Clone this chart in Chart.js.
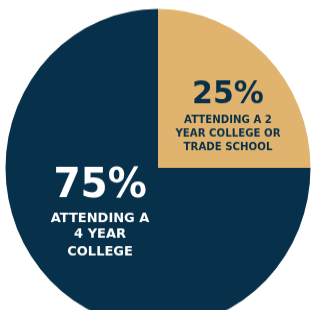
<!DOCTYPE html>
<html>
<head>
<meta charset="utf-8">
<script src="https://cdn.jsdelivr.net/npm/chart.js@4"></script>
<style>
  html, body { margin: 0; padding: 0; background: #fff; overflow: hidden; }
  #wrap {
    position: absolute; left: 0; top: 0;
    width: 312px; height: 320px;
    transform-origin: 0 0;
    transform: scaleY(1.0426);
  }
</style>
</head>
<body>
<div id="wrap"><canvas id="chart"></canvas></div>
<script>
const categories = ["2 year college or trade school", "4 year college"];
const shares = [25, 75];
const percentLabels = ["25%", "75%"];
const captionLines = [
    ["ATTENDING A 2", "YEAR COLLEGE OR", "TRADE SCHOOL"],
    ["ATTENDING A", "4 YEAR", "COLLEGE"]
];

const sliceColors = ["#e0b46f", "#07304a"];
const textColors = ["#0a3048", "#ffffff"];

// where each slice's text sits, as fractions of the radius from the centre
const textSpots = [
    { dx: 0.459, big: -0.409, lines: [-0.283, -0.195, -0.113], bigSize: 30, lineSize: 10.2 },
    { dx: -0.380, big: 0.183, lines: [0.340, 0.441, 0.548], bigSize: 39, lineSize: 13 }
];

const sliceText = {
    id: "sliceText",
    afterDatasetsDraw(chart) {
        const ctx = chart.ctx;
        const arcs = chart.getDatasetMeta(0).data;

        arcs.forEach((arc, i) => {
            const r = arc.outerRadius;
            const spot = textSpots[i];
            const x = arc.x + spot.dx * r;

            ctx.save();
            ctx.fillStyle = textColors[i];
            ctx.textAlign = "center";
            ctx.textBaseline = "alphabetic";

            ctx.font = `bold ${spot.bigSize}px "DejaVu Sans", sans-serif`;
            ctx.fillText(percentLabels[i], x, arc.y + spot.big * r);

            ctx.font = `bold ${spot.lineSize}px "DejaVu Sans", sans-serif`;
            captionLines[i].forEach((line, j) => {
                ctx.fillText(line, x, arc.y + spot.lines[j] * r);
            });
            ctx.restore();
        });
    }
};

new Chart(document.getElementById("chart"), {
    type: "pie",
    data: {
        labels: categories,
        datasets: [{
            data: shares,
            backgroundColor: sliceColors,
            borderWidth: 0
        }]
    },
    options: {
        responsive: true,
        maintainAspectRatio: false,
        animation: false,
        layout: {
            padding: { left: 5.5, right: 1.5, top: 8.6, bottom: 6.4 }
        },
        plugins: {
            legend: { display: false },
            tooltip: { enabled: false }
        }
    },
    plugins: [sliceText]
});
</script>
</body>
</html>
